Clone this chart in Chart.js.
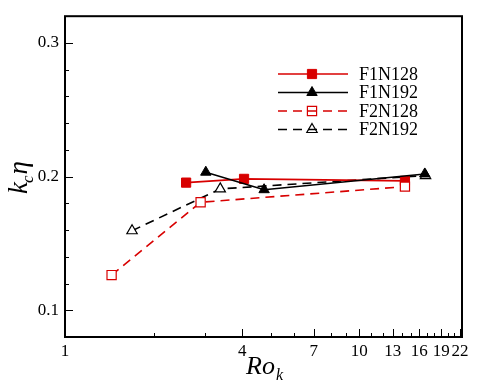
<!DOCTYPE html>
<html>
<head>
<meta charset="utf-8">
<script src="https://cdn.jsdelivr.net/npm/chart.js@4/dist/chart.umd.min.js"></script>
<style>
html,body{margin:0;padding:0;background:#fff;}
#wrap{width:498px;height:388px;}
</style>
</head>
<body>
<div id="wrap"><canvas id="c" width="498" height="388"></canvas></div>
<script>
// ---- data ----
const seriesLabels = ['F1N128', 'F1N192', 'F2N128', 'F2N192'];
const f1n128X = [2.58, 4.06, 14.3];
const f1n128Y = [0.1955, 0.1983, 0.1968];
const f1n192X = [3.01, 4.75, 16.7];
const f1n192Y = [0.2033, 0.1902, 0.2020];
const f2n128X = [1.44, 2.89, 14.3];
const f2n128Y = [0.1263, 0.1808, 0.1925];
const f2n192X = [1.69, 3.37, 16.8];
const f2n192Y = [0.1595, 0.1908, 0.2008];
const xTickValues = [1,2,3,4,5,6,7,8,9,10,11,12,13,14,15,16,17,18,19,20,21,22];
const xTickLabels = [1, 4, 7, 10, 13, 16, 19, 22];
const yTickLabels = [0.1, 0.2, 0.3];
const yMinorTicks = [0.1,0.12,0.14,0.16,0.18,0.2,0.22,0.24,0.26,0.28,0.3];

const RED = '#d80000';
const FONT = "'Liberation Serif'";
const pts = (xs, ys) => xs.map((x, i) => ({x: x, y: ys[i]}));

const datasets = [
  {label: seriesLabels[0], data: pts(f1n128X, f1n128Y), borderColor: RED, backgroundColor: RED, legendFill: RED,
   pointStyle: 'rect', pointRadius: 6.5, pointBorderWidth: 1, borderWidth: 1.6, order: 2},
  {label: seriesLabels[1], data: pts(f1n192X, f1n192Y), borderColor: '#000', backgroundColor: '#000', legendFill: '#000',
   pointStyle: 'triangle', pointRadius: 6, pointBorderWidth: 1, borderWidth: 1.6, order: 1},
  {label: seriesLabels[2], data: pts(f2n128X, f2n128Y), borderColor: RED, backgroundColor: '#fff', legendFill: 'rgba(0,0,0,0)',
   pointStyle: 'rect', pointRadius: 6.5, pointBorderWidth: 1.2, borderWidth: 1.6, borderDash: [9, 6], order: 0},
  {label: seriesLabels[3], data: pts(f2n192X, f2n192Y), borderColor: '#000', backgroundColor: '#fff', legendFill: 'rgba(0,0,0,0)',
   pointStyle: 'triangle', pointRadius: 6, pointBorderWidth: 1.2, borderWidth: 1.6, borderDash: [9, 6], order: 3}
];
datasets.forEach(d => { d.showLine = true; d.fill = false; d.tension = 0; d.pointBackgroundColor = d.backgroundColor; d.pointBorderColor = d.borderColor; });

const decorPlugin = {
  id: 'decor',
  afterDatasetsDraw(chart) {
    const ctx = chart.ctx, a = chart.chartArea;
    const xs = chart.scales.x, ys = chart.scales.y;
    ctx.save();
    // frame
    ctx.strokeStyle = '#000';
    ctx.lineWidth = 2;
    ctx.strokeRect(a.left, a.top, a.right - a.left, a.bottom - a.top);
    // x ticks
    ctx.lineWidth = 1;
    xTickValues.forEach(v => {
      const px = Math.round(xs.getPixelForValue(v)) + 0.5;
      const len = xTickLabels.includes(v) ? 8 : 4;
      ctx.beginPath(); ctx.moveTo(px, a.bottom); ctx.lineTo(px, a.bottom - len); ctx.stroke();
    });
    yMinorTicks.forEach(v => {
      const py = Math.round(ys.getPixelForValue(v)) + 0.5;
      const len = yTickLabels.some(t => Math.abs(t - v) < 1e-9) ? 8 : 4;
      ctx.beginPath(); ctx.moveTo(a.left, py); ctx.lineTo(a.left + len, py); ctx.stroke();
    });
    // legend
    const lx0 = 278, lx1 = 348, mx = 312, tx = 359;
    const rows = [74, 92.5, 111, 129.5];
    chart.data.datasets.forEach((d, i) => {
      const y = rows[i];
      ctx.save();
      ctx.strokeStyle = d.borderColor;
      ctx.lineWidth = d.borderWidth;
      ctx.setLineDash(d.borderDash || []);
      ctx.beginPath(); ctx.moveTo(lx0, y); ctx.lineTo(lx1, y); ctx.stroke();
      ctx.setLineDash([]);
      ctx.fillStyle = d.legendFill;
      ctx.strokeStyle = d.borderColor;
      ctx.lineWidth = d.pointBorderWidth;
      Chart.helpers.drawPoint(ctx, {pointStyle: d.pointStyle, radius: d.pointRadius, borderWidth: d.pointBorderWidth}, mx, y);
      ctx.restore();
      ctx.fillStyle = '#000';
      ctx.font = '18px ' + FONT;
      ctx.textBaseline = 'middle';
      ctx.textAlign = 'left';
      ctx.fillText(d.label, tx, y + 1);
    });
    // x title
    ctx.fillStyle = '#000';
    ctx.textBaseline = 'alphabetic';
    ctx.textAlign = 'left';
    ctx.font = 'italic 26px ' + FONT;
    ctx.fillText('Ro', 246, 374);
    const rw = ctx.measureText('Ro').width;
    ctx.font = 'italic 16px ' + FONT;
    ctx.fillText('k', 246 + rw + 1, 380);
    // y title
    ctx.save();
    ctx.translate(27, 194);
    ctx.rotate(-Math.PI / 2);
    ctx.font = 'italic 27px ' + FONT;
    ctx.fillText('k', 0, 0);
    const kw = ctx.measureText('k').width;
    ctx.font = 'italic 17px ' + FONT;
    ctx.fillText('c', kw - 1, 6);
    const cw = ctx.measureText('c').width;
    ctx.font = 'italic 27px ' + FONT;
    ctx.fillText('\u03B7', kw + cw, 0);
    ctx.restore();
    ctx.restore();
  }
};

new Chart(document.getElementById('c'), {
  type: 'scatter',
  data: {datasets: datasets},
  options: {
    responsive: false,
    animation: false,
    devicePixelRatio: 1,
    layout: {padding: {left: 0, top: 16, right: 36, bottom: 0}},
    plugins: {legend: {display: false}, tooltip: {enabled: false}},
    scales: {
      x: {
        type: 'logarithmic', min: 1, max: 22.35,
        afterBuildTicks: s => { s.ticks = xTickValues.map(v => ({value: v})); },
        afterFit: s => { s.height = 51; },
        grid: {display: false, drawTicks: false},
        border: {display: false},
        ticks: {
          autoSkip: false, maxRotation: 0, minRotation: 0, padding: 4,
          color: '#000', font: {family: FONT, size: 17},
          callback: v => xTickLabels.includes(v) ? String(v) : ''
        }
      },
      y: {
        type: 'linear', min: 0.08, max: 0.32,
        afterBuildTicks: s => { s.ticks = yTickLabels.map(v => ({value: v})); },
        afterFit: s => { s.width = 65; },
        grid: {display: false, drawTicks: false},
        border: {display: false},
        ticks: {
          padding: 6, color: '#000', font: {family: FONT, size: 17},
          callback: v => String(v)
        }
      }
    }
  },
  plugins: [decorPlugin]
});
</script>
</body>
</html>
